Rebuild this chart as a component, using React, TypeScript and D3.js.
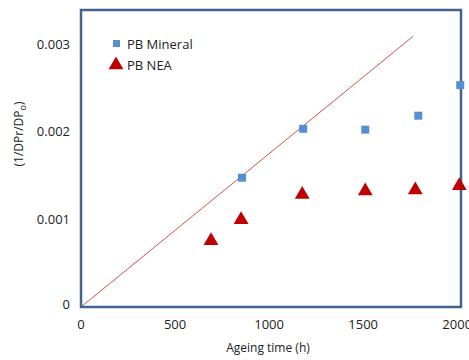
import React, { useEffect, useRef } from 'react'
import * as d3 from 'd3'

// ageing time (h) and (1/DPr/DPo) values
const mineralHours = [856, 1181, 1511, 1793, 2016]
const mineralValues = [0.00148, 0.00204, 0.00203, 0.00219, 0.00254]
const neaHours = [691, 851, 1176, 1511, 1777, 2011]
const neaValues = [0.00077, 0.00101, 0.0013, 0.00134, 0.00135, 0.0014]
const fitLine = [[0, 0], [1766, 0.0031]]
const xTicks = [0, 500, 1000, 1500, 2000]
const yTicks = [0, 0.001, 0.002, 0.003]
const seriesNames = ['PB Mineral', 'PB NEA']

export default function App() {
  const svgRef = useRef<SVGSVGElement>(null)

  useEffect(() => {
    const svg = d3.select(svgRef.current)
    svg.selectAll('*').remove()
    const font = "'Open Sans', sans-serif"

    const x = d3.scaleLinear().domain([0, 2020]).range([81, 461])
    const y = d3.scaleLinear().domain([0, 0.0034]).range([307, 10])

    const g = svg.append('g')

    // fit line
    g.append('line')
      .attr('x1', x(fitLine[0][0])).attr('y1', y(fitLine[0][1]))
      .attr('x2', x(fitLine[1][0])).attr('y2', y(fitLine[1][1]))
      .attr('stroke', '#d0504d').attr('stroke-width', 1)

    // frame
    g.append('rect')
      .attr('x', x(0)).attr('y', y(0.0034))
      .attr('width', x(2020) - x(0)).attr('height', y(0) - y(0.0034))
      .attr('fill', 'none').attr('stroke', '#41648f').attr('stroke-width', 2.5)

    const sq = 8
    g.selectAll('.min').data(mineralHours).enter().append('rect')
      .attr('x', (d) => x(d) - sq / 2)
      .attr('y', (d, i) => y(mineralValues[i]) - sq / 2)
      .attr('width', sq).attr('height', sq)
      .attr('fill', '#558ed5')

    const tri = d3.symbol().type(d3.symbolTriangle).size(95)
    g.selectAll('.nea').data(neaHours).enter().append('path')
      .attr('d', tri)
      .attr('transform', (d, i) => `translate(${x(d)},${y(neaValues[i]) + 1})`)
      .attr('fill', '#c00000')

    // tick labels
    g.selectAll('.xt').data(xTicks).enter().append('text')
      .attr('x', (d) => x(d)).attr('y', 329)
      .attr('text-anchor', 'middle')
      .style('font', `13px ${font}`).attr('fill', '#222')
      .text((d) => d)
    g.selectAll('.yt').data(yTicks).enter().append('text')
      .attr('x', 70).attr('y', (d) => y(d) + 4 - (d === 0 ? 2 : 0))
      .attr('text-anchor', 'end')
      .style('font', `13px ${font}`).attr('fill', '#222')
      .text((d) => d)

    // axis titles
    g.append('text')
      .attr('x', 268).attr('y', 352).attr('text-anchor', 'middle')
      .style('font', `12px ${font}`).attr('fill', '#222')
      .text('Ageing time (h)')
    const yt = g.append('text')
      .attr('transform', 'translate(23,134) rotate(-90)')
      .attr('text-anchor', 'middle')
      .style('font', `12px ${font}`).attr('fill', '#222')
    yt.append('tspan').text('(1/DPr/DP')
    yt.append('tspan').attr('dy', 3).style('font-size', '9px').text('o')
    yt.append('tspan').attr('dy', -3).text(')')

    // legend
    g.append('rect').attr('x', 113).attr('y', 40).attr('width', 7).attr('height', 7).attr('fill', '#558ed5')
    g.append('path').attr('d', tri).attr('transform', 'translate(116,65)').attr('fill', '#c00000')
    g.selectAll('.lg').data(seriesNames).enter().append('text')
      .attr('x', 127).attr('y', (d, i) => 49 + i * 21)
      .style('font', `13px ${font}`).attr('fill', '#222')
      .text((d) => d)
  }, [])

  return <svg ref={svgRef} width={469} height={360} style={{ position: 'absolute', left: 0, top: 0 }} />
}
